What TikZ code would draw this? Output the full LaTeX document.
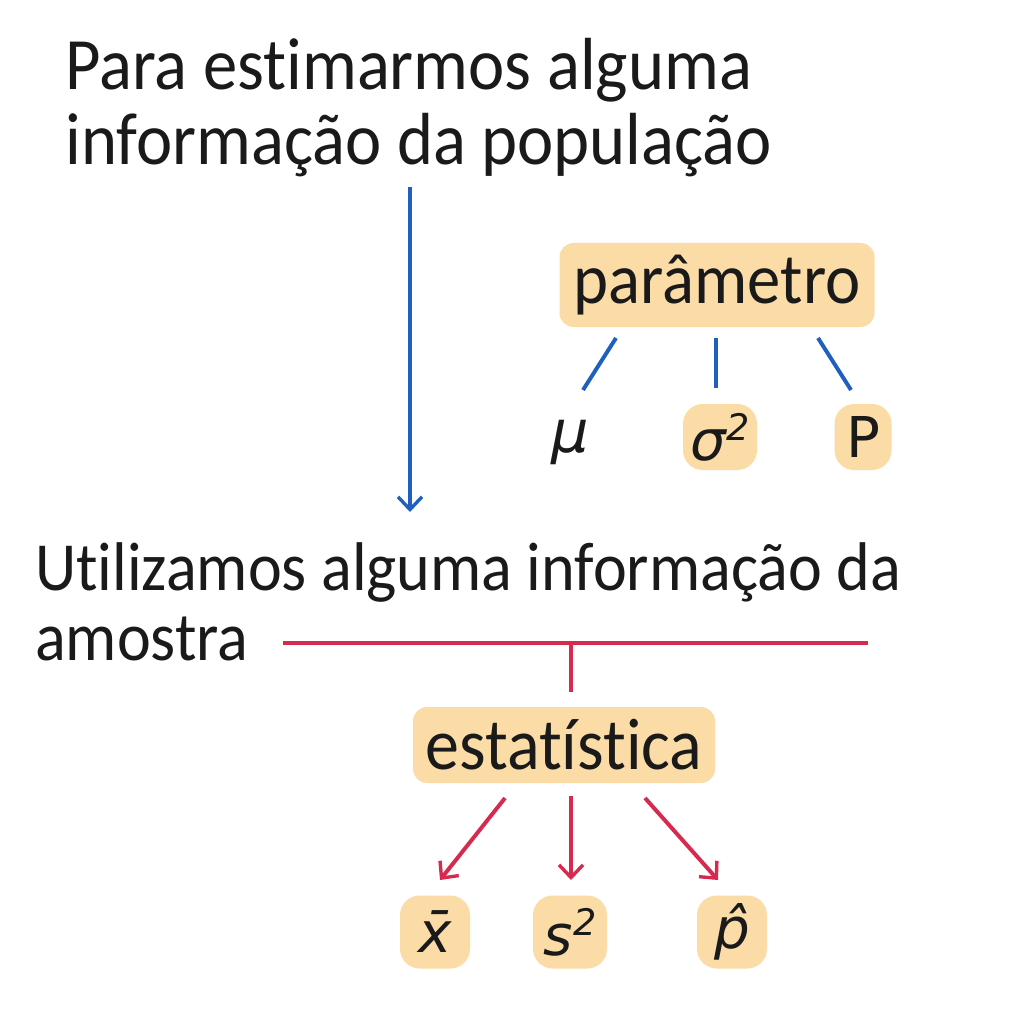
\documentclass[tikz,border=0pt]{standalone}
\usepackage{fontspec}
\setmainfont{Carlito}[Ligatures=NoCommon, FakeStretch=0.93]
\newfontfamily\symf{DejaVu Sans}
\usetikzlibrary{arrows.meta}
\definecolor{bluel}{HTML}{1F5FBF}
\definecolor{redl}{HTML}{D62A4E}
\definecolor{boxfill}{HTML}{FCDCA6}
\definecolor{ink}{HTML}{1A1A1A}
\begin{document}
\begin{tikzpicture}[x=0.025cm,y=-0.025cm,
  bigtext/.style={anchor=base west, inner sep=0pt, text=ink, font=\fontsize{52.5}{60}\selectfont},
  lowtext/.style={anchor=base west, inner sep=0pt, text=ink, font=\fontsize{49}{56}\selectfont},
  hbox/.style={fill=boxfill, rounded corners=10pt, text=ink, inner sep=0pt, align=center},
  sbox/.style={hbox, rounded corners=14pt, font=\symf\fontsize{40}{44}\selectfont},
  symb/.style={text=ink, inner sep=0pt, font=\symf\fontsize{42}{46}\selectfont},
  bline/.style={draw=bluel, line width=2.8pt},
  rline/.style={draw=redl, line width=2.8pt},
  barrow/.style={bline, -{Straight Barb[length=9pt,width=17pt,line width=2.4pt]}},
  rarrow/.style={rline, -{Straight Barb[length=9pt,width=17pt,line width=2.4pt]}},
]
\useasboundingbox[fill=white] (0,0) rectangle (1024,1024);
% top text
\node[bigtext] (t1) at (65,90) {Para estimarmos alguma};
\node[bigtext] (t2) at (65,165) {informação da população};
\coordinate (ba) at (410,187);
\coordinate (bb) at (410,512);
\draw[barrow] (ba) -- (bb);
% parametro
\node[hbox, minimum width=315*0.025cm, minimum height=84*0.025cm,
      font=\fontsize{51}{56}\selectfont] (par) at (717,285) {parâmetro};
\node[symb] (mu) at (570,442) {\itshape μ};
\node[sbox, minimum width=74*0.025cm, minimum height=66*0.025cm] (sig) at (720,437) {\itshape σ\raisebox{0.35em}{\fontsize{26}{28}\selectfont 2}};
\node[sbox, minimum width=57*0.025cm, minimum height=66*0.025cm] (P) at (863,437) {P};
\coordinate (p1a) at (616,338); \coordinate (p1b) at (583,390);
\coordinate (p2a) at (716,338); \coordinate (p2b) at (716,388);
\coordinate (p3a) at (818,338); \coordinate (p3b) at (851,390);
\draw[bline] (p1a) -- (p1b);
\draw[bline] (p2a) -- (p2b);
\draw[bline] (p3a) -- (p3b);
% bottom text
\node[lowtext] (t3) at (35,590) {Utilizamos alguma informação da};
\node[lowtext] (t4) at (35,660) {amostra};
\coordinate (ra) at (283,643); \coordinate (rb) at (868,643);
\coordinate (rm) at (571,643); \coordinate (rm2) at (571,692);
\draw[rline] (ra) -- (rb);
\draw[rline] (rm) -- (rm2);
\node[hbox, minimum width=302*0.025cm, minimum height=76*0.025cm,
      font=\fontsize{52}{56}\selectfont] (est) at (564,745) {estatística};
% statistics
\node[sbox, minimum width=70*0.025cm, minimum height=73*0.025cm] (xb) at (435,932) {\itshape x̄};
\node[sbox, minimum width=74*0.025cm, minimum height=73*0.025cm] (s2) at (570,932) {\itshape s\raisebox{0.35em}{\fontsize{26}{28}\selectfont 2}};
\node[sbox, minimum width=70*0.025cm, minimum height=73*0.025cm] (ph) at (732,932) {\itshape p̂};
\coordinate (e1) at (505,798); \coordinate (e2) at (571,796); \coordinate (e3) at (645,798);
\coordinate (f1) at (440,880); \coordinate (f2) at (571,880); \coordinate (f3) at (718,880);
\draw[rarrow] (e1) -- (f1);
\draw[rarrow] (e2) -- (f2);
\draw[rarrow] (e3) -- (f3);
\end{tikzpicture}
\end{document}
